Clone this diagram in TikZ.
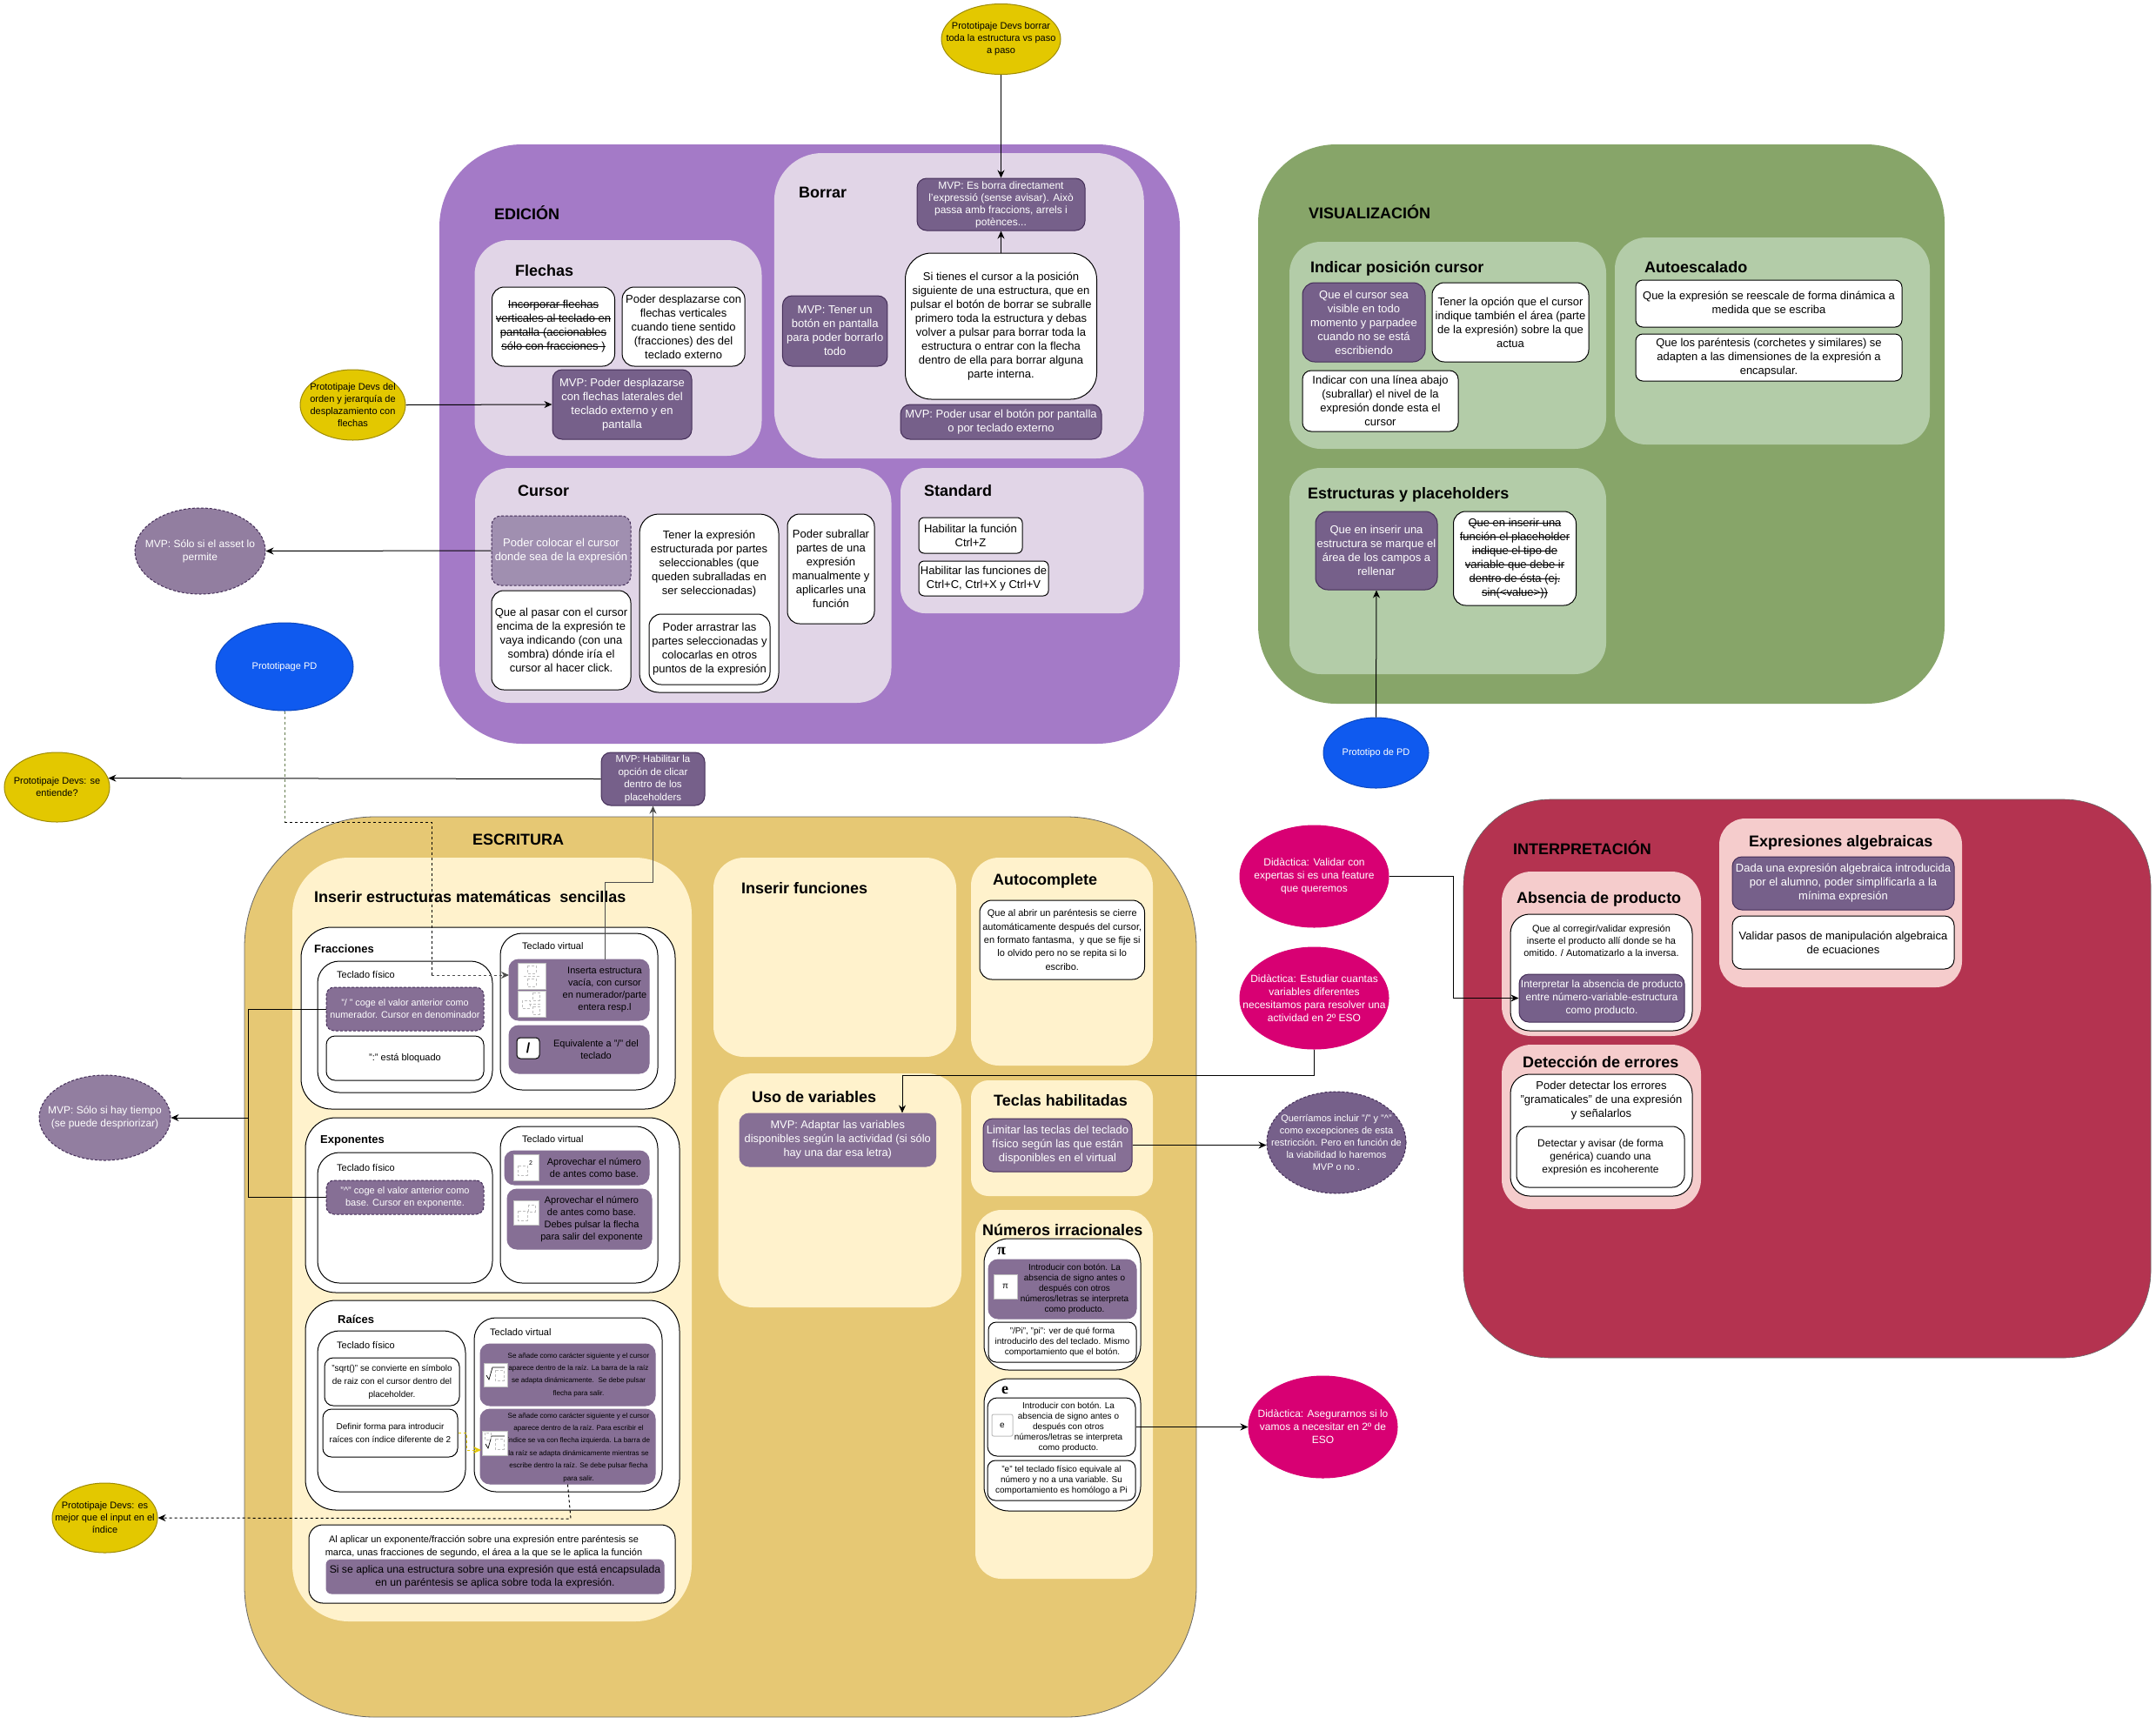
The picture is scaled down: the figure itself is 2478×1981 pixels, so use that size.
\documentclass[tikz,border=0pt]{standalone}
\usepackage{fontspec}
\usepackage{xcolor}
\usepackage{tikz}
\usetikzlibrary{arrows.meta,shapes.geometric}
\setmainfont{Liberation Sans}
\newfontfamily\serifbit{Liberation Serif}
\newcommand{\crossout}[1]{\sbox0{#1}\rlap{\usebox0}\rule[.28em]{\wd0}{1pt}}
\definecolor{edicioncol}{HTML}{A47AC7}
\definecolor{edicionpale}{HTML}{E1D5E7}
\definecolor{visualcol}{HTML}{87A569}
\definecolor{visualpale}{HTML}{B3CCA8}
\definecolor{interpcol}{HTML}{B43350}
\definecolor{interppale}{HTML}{F5CCCC}
\definecolor{escritcol}{HTML}{E6C874}
\definecolor{escritpale}{HTML}{FFF2CC}
\definecolor{mvpcol}{HTML}{76608A}
\definecolor{mvpline}{HTML}{432D57}
\definecolor{softcol}{HTML}{866F95}
\definecolor{fadecol}{HTML}{A08FB0}
\definecolor{devscol}{HTML}{E3C800}
\definecolor{pdcol}{HTML}{0F5AEF}
\definecolor{didaccol}{HTML}{D80073}
\definecolor{assetcol}{HTML}{927EA0}
\tikzset{
  sz/.style 2 args={minimum width=#1,minimum height=#2},
  basebox/.style={rectangle,inner sep=0pt,align=center,line width=1pt},
  t13/.style={font=\fontsize{13}{16}\selectfont},
  t12/.style={font=\fontsize{12}{15}\selectfont},
  t11/.style={font=\fontsize{11}{14}\selectfont},
  t10/.style={font=\fontsize{10}{12}\selectfont},
  t8/.style={font=\fontsize{8.1}{14.4}\selectfont},
  region/.style={basebox,fill=#1},
  whitebox/.style={basebox,draw=black,fill=white,rounded corners=14pt},
  mvpbox/.style={basebox,draw=mvpline,fill=mvpcol,text=white,rounded corners=11pt},
  softbox/.style={basebox,draw=softcol,fill=softcol,rounded corners=11pt},
  softdash/.style={basebox,draw=mvpline,densely dashed,fill=softcol,text=white,rounded corners=9pt},
  note/.style={align=center,inner sep=0pt},
  heading/.style={anchor=west,inner sep=0pt,font=\fontsize{18}{21}\selectfont\bfseries},
  subheading/.style={anchor=west,inner sep=0pt,font=\fontsize{13}{16}\selectfont\bfseries},
  keylabel/.style={anchor=west,inner sep=0pt,font=\fontsize{11}{14}\selectfont},
  thumb/.style={rectangle,inner sep=0pt,draw=gray!50,fill=white,line width=1pt},
  ph/.style={draw=gray!50,densely dashed,line width=.5pt},
  oval/.style={ellipse,align=center,inner xsep=-40pt,inner ysep=-25pt,line width=1pt},
  devs/.style={oval,draw=devscol!70!black,fill=devscol,text=black,t11},
  pdoval/.style={oval,draw=pdcol!80!black,fill=pdcol,text=white,t11},
  didac/.style={oval,draw=didaccol,fill=didaccol,text=white,t12},
  mvpoval/.style={oval,draw=mvpline,densely dashed,fill=assetcol,text=white,t12},
  conn/.style={-{Stealth[length=9pt,width=8pt]},line width=1pt,draw=black},
}
\begin{document}
\begin{tikzpicture}[x=1pt,y=-1pt]
\useasboundingbox (0,0) rectangle (2478,1981);
\fill[white] (0,0) rectangle (2478,1981);

\node[region=edicioncol,sz={851}{689},rounded corners=95pt] (edicion) at (930.5,510.5) {};
\node[region=visualcol,sz={789}{643},rounded corners=90pt] (visual) at (1840.5,487.5) {};
\node[region=interpcol,sz={790}{642},rounded corners=100pt,draw=black!60,line width=.6pt] (interp) at (2077,1240) {};
\node[region=escritcol,sz={1094}{1035},rounded corners=150pt,draw=black!60,line width=.8pt] (escrit) at (828,1456.5) {};

\node[region=edicionpale,sz={330}{248},rounded corners=40pt] (flechas) at (710.5,400) {};
\node[region=edicionpale,sz={425}{351},rounded corners=55pt] (borrar) at (1102.3,351.5) {};
\node[region=edicionpale,sz={478.5}{270},rounded corners=40pt] (cursor) at (785.25,673) {};
\node[region=edicionpale,sz={279.5}{167},rounded corners=28pt] (standard) at (1174.75,621.5) {};
\node[region=visualpale,sz={364}{238},rounded corners=36pt] (indicar) at (1664,397) {};
\node[region=visualpale,sz={362}{238},rounded corners=36pt] (autoesc) at (2037,392) {};
\node[region=visualpale,sz={364}{237},rounded corners=36pt] (estruct) at (1664,656.5) {};
\node[region=interppale,sz={229}{189},rounded corners=34pt] (absencia) at (1840.5,1096.5) {};
\node[region=interppale,sz={229}{189},rounded corners=34pt] (deteccion) at (1840.5,1295.5) {};
\node[region=interppale,sz={279}{194},rounded corners=30pt] (expres) at (2115.5,1038) {};
\node[region=escritpale,sz={459}{878},rounded corners=65pt] (inserir) at (565.5,1425) {};
\node[region=escritpale,sz={279}{229},rounded corners=35pt] (funciones) at (959.5,1100.5) {};
\node[region=escritpale,sz={209}{239},rounded corners=32pt] (autocomp) at (1220.5,1105.5) {};
\node[region=escritpale,sz={279.5}{269},rounded corners=40pt] (variables) at (965.25,1368.5) {};
\node[region=escritpale,sz={209}{133},rounded corners=20pt] (teclas) at (1220.5,1308.5) {};
\node[region=escritpale,sz={204}{424},rounded corners=30pt] (numeros) at (1223,1603) {};

\node[heading] (tedicion) at (568,245) {EDICIÓN};
\node[heading] (tborrar) at (918,221) {Borrar};
\node[heading] (tflechas) at (592,311) {Flechas};
\node[heading] (tcursor) at (595,564) {Cursor};
\node[heading] (tstandard) at (1062,564) {Standard};
\node[heading] (tvisual) at (1504,244) {VISUALIZACIÓN};
\node[heading] (tindicar) at (1506,308.5) {Indicar posición cursor};
\node[heading] (tautoesc) at (1890,307) {Autoescalado};
\node[heading] (testruct) at (1503,569) {Estructuras y placeholders};
\node[heading] (tinterp) at (1739,975) {INTERPRETACIÓN};
\node[heading] (tabsencia) at (1743,1033.5) {Absencia de producto};
\node[heading] (tdeteccion) at (1750,1221) {Detección de errores};
\node[heading] (texpres) at (2010,968.5) {Expresiones algebraicas};
\node[heading] (tescrit) at (543,965) {ESCRITURA};
\node[heading] (tinserir) at (361,1031) {Inserir estructuras matemáticas\ \ sencillas};
\node[heading] (tfunciones) at (852,1021) {Inserir funciones};
\node[heading] (tautocomp) at (1141,1013) {Autocomplete};
\node[heading] (tvariables) at (864,1261) {Uso de variables};
\node[heading] (tteclas) at (1142,1265) {Teclas habilitadas};
\node[heading] (tnumeros) at (1129,1414) {Números irracionales};

\node[whitebox,t13,sz={141}{91}] (incorp) at (636,375.5) {\crossout{Incorporar flechas}\\\crossout{verticales al teclado en}\\\crossout{pantalla (accionables}\\\crossout{sólo con fracciones )}};
\node[whitebox,t13,sz={141}{91}] (despl) at (785.6,375.5) {Poder desplazarse con\\flechas verticales\\cuando tiene sentido\\(fracciones) des del\\teclado externo};
\node[mvpbox,t13,sz={160}{80}] (mvpdespl) at (715,465) {MVP: Poder desplazarse\\con flechas laterales del\\teclado externo y en\\pantalla};
\node[mvpbox,font=\fontsize{12}{14}\selectfont,sz={193}{60}] (esborra) at (1150.5,235) {MVP: Es borra directament\\l'expressió (sense avisar). Això\\passa amb fraccions, arrels i\\potènces...};
\node[whitebox,t13,sz={220}{168},rounded corners=30pt] (sitienes) at (1150.5,375) {Si tienes el cursor a la posición\\siguiente de una estructura, que en\\pulsar el botón de borrar se subralle\\primero toda la estructura y debas\\volver a pulsar para borrar toda la\\estructura o entrar con la flecha\\dentro de ella para borrar alguna\\parte interna.};
\node[mvpbox,t13,sz={120.5}{81}] (mvpboton) at (959.7,380.5) {MVP: Tener un\\botón en pantalla\\para poder borrarlo\\todo};
\node[mvpbox,t13,sz={231}{40}] (mvpusar) at (1150.5,485) {MVP: Poder usar el botón por pantalla\\o por teclado externo};

\node[basebox,t13,draw=mvpline,densely dashed,fill=fadecol,text=white,rounded corners=11pt,sz={160}{80}] (colocar) at (645,633) {Poder colocar el cursor\\donde sea de la expresión};
\node[whitebox,t13,sz={160}{114}] (pasar) at (645,736) {Que al pasar con el cursor\\encima de la expresión te\\vaya indicando (con una\\sombra) dónde iría el\\cursor al hacer click.};
\node[whitebox,t13,sz={160}{205},rounded corners=22pt] (partes) at (815,693.5) {Tener la expresión\\estructurada por partes\\seleccionables (que\\queden subralladas en\\ser seleccionadas)\\[77pt]~};
\node[whitebox,t13,sz={139}{81}] (arrastrar) at (815.5,746.5) {Poder arrastrar las\\partes seleccionadas y\\colocarlas en otros\\puntos de la expresión};
\node[whitebox,t13,sz={100}{126}] (subrallar) at (955,654) {Poder subrallar\\partes de una\\expresión\\manualmente y\\aplicarles una\\función};
\node[whitebox,t13,sz={119}{41},rounded corners=6pt] (ctrlz) at (1115.5,615.5) {Habilitar la función\\Ctrl+Z};
\node[whitebox,t13,sz={149}{40},rounded corners=6pt] (ctrlc) at (1130.5,665) {Habilitar las funciones de\\Ctrl+C, Ctrl+X y Ctrl+V};

\node[mvpbox,t13,sz={141}{91},rounded corners=14pt] (visible) at (1567.5,370.5) {Que el cursor sea\\visible en todo\\momento y parpadee\\cuando no se está\\escribiendo};
\node[whitebox,t13,sz={180}{91}] (opcion) at (1736,370.5) {Tener la opción que el cursor\\indique también el área (parte\\de la expresión) sobre la que\\actua};
\node[whitebox,t13,sz={179}{70},rounded corners=10pt] (linea) at (1586.5,461) {Indicar con una línea abajo\\(subrallar) el nivel de la\\expresión donde esta el\\cursor};
\node[whitebox,t13,sz={306}{54},rounded corners=8pt] (reescale) at (2033,349) {Que la expresión se reescale de forma dinámica a\\medida que se escriba};
\node[whitebox,t13,sz={306}{54},rounded corners=8pt] (parentesis) at (2033,411) {Que los paréntesis (corchetes y similares) se\\adapten a las dimensiones de la expresión a\\encapsular.};
\node[mvpbox,t13,sz={140}{90},rounded corners=14pt] (enins) at (1582,633) {Que en inserir una\\estructura se marque el\\área de los campos a\\rellenar};
\node[whitebox,t13,sz={141}{108}] (funcph) at (1741,642) {\crossout{Que en inserir una}\\\crossout{función el placeholder}\\\crossout{indique el tipo de}\\\crossout{variable que debe ir}\\\crossout{dentro de ésta (ej.}\\\crossout{sin(<value>))}};

\node[whitebox,t11,sz={209}{134},rounded corners=22pt] (corregir) at (1840.5,1118) {Que al corregir/validar expresión\\inserte el producto allí donde se ha\\omitido. / Automatizarlo a la inversa.\\[60pt]~};
\node[mvpbox,t12,sz={190}{55}] (interpretar) at (1841,1147.5) {Interpretar la absencia de producto\\entre número-variable-estructura\\como producto.};
\node[whitebox,t13,sz={209}{140},rounded corners=22pt] (detw) at (1840.5,1305) {Poder detectar los errores\\"gramaticales" de una expresión\\y señalarlos\\[66pt]~};
\node[whitebox,t12,sz={193}{70}] (detectar) at (1839.5,1330) {Detectar y avisar (de forma\\genérica) cuando una\\expresión es incoherente};
\node[mvpbox,t13,sz={255}{61}] (dada) at (2118.5,1015.5) {Dada una expresión algebraica introducida\\por el alumno, poder simplificarla a la\\mínima expresión};
\node[whitebox,t13,sz={255}{61},rounded corners=11pt] (valpasos) at (2118.5,1083.5) {Validar pasos de manipulación algebraica\\de ecuaciones};

\node[whitebox,sz={430}{209},rounded corners=35pt] (frac) at (561,1170.5) {};
\node[subheading] (tfrac) at (361,1091) {Fracciones};
\node[whitebox,sz={201}{151},rounded corners=25pt] (fisf) at (465.5,1180.5) {};
\node[keylabel] (tfisf) at (387,1120) {Teclado físico};
\node[whitebox,sz={181}{180},rounded corners=25pt] (virf) at (665.5,1163) {};
\node[keylabel] (tvirf) at (600,1088) {Teclado virtual};
\node[softdash,font=\fontsize{10.8}{14}\selectfont,sz={181}{50}] (slash) at (465.5,1160) {"/ " coge el valor anterior como\\numerador. Cursor en denominador};
\node[whitebox,t11,sz={181}{51},rounded corners=10pt] (bloq) at (465.5,1216.5) {":" está bloquado};
\node[softbox,sz={161}{70}] (inserta) at (665.5,1138) {};
\node[note,t11] (instxt) at (695,1138) {Inserta estructura\\vacía, con cursor\\en numerador/parte\\entera resp.l};
\node[thumb,sz={32}{30}] (kfrac) at (611,1122) {};
\node[thumb,sz={32}{30}] (kmix) at (611,1154) {};
\node[softbox,sz={161}{55}] (equiv) at (665.5,1206.5) {};
\node[note,t11] (eqtxt) at (685,1206.5) {Equivalente a "/" del\\teclado};
\node[basebox,draw=black,fill=white,rounded corners=4pt,sz={26}{24},font=\fontsize{16}{16}\selectfont\bfseries] (kslash) at (607,1205) {/};

\node[whitebox,sz={430}{201},rounded corners=35pt] (expo) at (566,1385.5) {};
\node[subheading] (texpo) at (368,1311) {Exponentes};
\node[whitebox,sz={201}{150},rounded corners=25pt] (fise) at (465.5,1400) {};
\node[keylabel] (tfise) at (387,1342) {Teclado físico};
\node[whitebox,sz={181}{180},rounded corners=25pt] (vire) at (665.5,1385) {};
\node[keylabel] (tvire) at (600,1310) {Teclado virtual};
\node[softdash,t11,sz={181}{39}] (hat) at (465.5,1376.5) {"\textasciicircum" coge el valor anterior como\\base. Cursor en exponente.};
\node[softbox,sz={166}{39}] (apr1) at (663,1342.5) {};
\node[note,t11] (apr1txt) at (683,1342.5) {Aprovechar el número\\de antes como base.};
\node[thumb,sz={29}{30}] (kpow) at (604.5,1342) {};
\node[softbox,sz={166}{69}] (apr2) at (666,1401.5) {};
\node[note,t11] (apr2txt) at (680,1401.5) {Aprovechar el número\\de antes como base.\\Debes pulsar la flecha\\para salir del exponente};
\node[thumb,sz={29}{28}] (kbox) at (604.5,1394) {};

\node[whitebox,sz={430}{241},rounded corners=35pt] (raices) at (566,1615.5) {};
\node[subheading] (traices) at (388,1517) {Raíces};
\node[whitebox,sz={170}{185},rounded corners=25pt] (fisr) at (450,1622.5) {};
\node[keylabel] (tfisr) at (387,1546) {Teclado físico};
\node[whitebox,sz={216}{200},rounded corners=25pt] (virr) at (653,1615) {};
\node[keylabel] (tvirr) at (563,1532) {Teclado virtual};
\node[whitebox,font=\fontsize{10}{15}\selectfont,sz={155}{55},rounded corners=10pt] (sqrtbox) at (450.5,1588.5) {"sqrt()" se convierte en símbolo\\de raiz con el cursor dentro del\\placeholder.};
\node[whitebox,font=\fontsize{10}{15}\selectfont,sz={155}{55},rounded corners=10pt] (definir) at (448.5,1647.5) {Definir forma para introducir\\raíces con índice diferente de 2};
\node[softbox,sz={201}{71}] (sa1) at (652.5,1580.5) {};
\node[note,t8] (sa1txt) at (665,1580.5) {Se añade como carácter siguiente y el cursor\\aparece dentro de la raíz. La barra de la raíz\\se adapta dinámicamente.\ \ Se debe pulsar\\flecha para salir.};
\node[thumb,sz={27}{27}] (kroot) at (569.5,1580.5) {};
\node[softbox,sz={201}{86}] (sa2) at (652.5,1663) {};
\node[note,t8] (sa2txt) at (665,1664) {Se añade como carácter siguiente y el cursor\\aparece dentro de la raíz. Para escribir el\\índice se va con flecha izquierda. La barra de\\la raíz se adapta dinámicamente mientras se\\escribe dentro la raíz. Se debe pulsar flecha\\para salir.};
\node[thumb,sz={29}{28}] (kindex) at (568.5,1659) {};

\node[whitebox,sz={421}{90},rounded corners=16pt] (aplicar) at (565.5,1798) {};
\node[note,font=\fontsize{11}{15}\selectfont] (apltxt) at (556,1778.5) {Al aplicar un exponente/fracción sobre una expresión entre paréntesis se\\marca, unas fracciones de segundo, el área a la que se le aplica la función};
\node[softbox,font=\fontsize{12.2}{15}\selectfont,sz={388}{39},rounded corners=6pt] (encaps) at (569,1812.5) {Si se aplica una estructura sobre una expresión que está encapsulada\\en un paréntesis se aplica sobre toda la expresión.};

\node[whitebox,font=\fontsize{11}{15.3}\selectfont,sz={189.5}{91}] (abrir) at (1220.75,1080.5) {Que al abrir un paréntesis se cierre\\automáticamente después del cursor,\\en formato fantasma,\ \ y que se fije si\\lo olvido pero no se repita si lo\\escribo.};
\node[mvpbox,font=\fontsize{12.8}{16}\selectfont,sz={225.5}{61},draw=softcol,fill=softcol] (adaptar) at (962.75,1310.5) {MVP: Adaptar las variables\\disponibles según la actividad (si sólo\\hay una dar esa letra)};
\node[mvpbox,t13,sz={171}{61},draw=mvpline,fill=softcol] (limitar) at (1215.5,1316.5) {Limitar las teclas del teclado\\físico según las que están\\disponibles en el virtual};

\node[whitebox,sz={180}{151},rounded corners=28pt] (piw) at (1221,1499.5) {};
\node[note,font=\serifbit\fontsize{18}{18}\selectfont\bfseries] (tpi) at (1151,1438) {π};
\node[softbox,sz={170}{68}] (mvppi) at (1221,1482) {};
\node[note,t10] (pitxt) at (1235,1482) {Introducir con botón. La\\absencia de signo antes o\\después con otros\\números/letras se interpreta\\como producto.};
\node[thumb,t10,sz={27}{28}] (kpi) at (1155.5,1479) {π};
\node[whitebox,t10,sz={170}{46},rounded corners=9pt] (pipi) at (1221,1543) {"/Pi", "pi": ver de qué forma\\introducirlo des del teclado. Mismo\\comportamiento que el botón.};
\node[whitebox,sz={180}{152},rounded corners=28pt] (ew) at (1221,1661) {};
\node[note,font=\serifbit\fontsize{18}{18}\selectfont\bfseries] (te) at (1155,1598) {e};
\node[whitebox,sz={170}{67},rounded corners=11pt] (intro) at (1220,1640.5) {};
\node[note,t10] (introtxt) at (1228,1641) {Introducir con botón. La\\absencia de signo antes o\\después con otros\\números/letras se interpreta\\como producto.};
\node[thumb,t10,sz={24}{25},rounded corners=2pt] (ke) at (1152,1638.5) {e};
\node[whitebox,t10,sz={170}{46},rounded corners=9pt] (etel) at (1220,1702) {"e" tel teclado físico equivale al\\número y no a una variable. Su\\comportamiento es homólogo a Pi};

\draw[ph] (606,1110) rectangle (616,1119) (606,1125) rectangle (616,1134) (602,1122) -- (620,1122);
\draw[ph] (600,1150) rectangle (609,1159) (612,1141) rectangle (620,1150) (612,1157) rectangle (620,1166) (608,1154) -- (622,1154);
\draw[ph] (595,1340) rectangle (606,1351);
\node[note,font=\fontsize{7}{7}\selectfont] (kpow2) at (610,1337) {2};
\draw[ph] (595,1392) rectangle (606,1403) (607,1385) rectangle (615,1393);
\draw[line width=.7pt] (559,1581) -- (562,1586) -- (566,1572) -- (580,1572);
\draw[ph] (569,1575) rectangle (579,1587);
\draw[line width=.7pt] (558,1660) -- (561,1665) -- (565,1651) -- (580,1651);
\draw[ph] (557,1647) rectangle (564,1655) (569,1654) rectangle (579,1666);

\node[devs,sz={137}{81}] (protob) at (1150.5,45) {Prototipaje Devs borrar\\toda la estructura vs paso\\a paso};
\node[devs,sz={121}{81}] (orden) at (405.5,465.5) {Prototipaje Devs del\\orden y jerarquía de\\desplazamiento con\\flechas};
\node[mvpoval,sz={150}{99}] (asset) at (230,633.5) {MVP: Sólo si el asset lo\\permite};
\node[pdoval,sz={158}{101}] (pd) at (327,766.5) {Prototipage PD};
\node[mvpbox,font=\fontsize{11.5}{14.6}\selectfont,sz={119}{61}] (habil) at (750.5,895.5) {MVP: Habilitar la\\opción de clicar\\dentro de los\\placeholders};
\node[devs,sz={121}{80}] (entiende) at (65.5,905) {Prototipaje Devs: se\\entiende?};
\node[pdoval,sz={121}{81}] (protopd) at (1581.5,865.5) {Prototipo de PD};
\node[mvpoval,sz={151}{98}] (tiempo) at (120.5,1285) {MVP: Sólo si hay tiempo\\(se puede despriorizar)};
\node[devs,sz={121}{80}] (indice) at (120.5,1745) {Prototipaje Devs: es\\mejor que el input en el\\índice};
\node[didac,sz={171}{117}] (validar) at (1510.5,1007.5) {Didàctica: Validar con\\expertas si es una feature\\que queremos};
\node[didac,sz={171}{117}] (estudiar) at (1510.5,1147.5) {Didàctica: Estudiar cuantas\\variables diferentes\\necesitamos para resolver una\\actividad en 2º ESO};
\node[mvpoval,font=\fontsize{11}{14}\selectfont,fill=mvpcol,sz={160}{117}] (quer) at (1536,1313.5) {Querríamos incluir "/" y "\textasciicircum"\\como excepciones de esta\\restricción. Pero en función de\\la viabilidad lo haremos\\MVP o no .};
\node[didac,sz={171}{117}] (aseg) at (1520.5,1640.5) {Didàctica: Asegurarnos si lo\\vamos a necesitar en 2º de\\ESO};

\coordinate (habbend) at (695,1014);
\coordinate (pdbend) at (496,945);
\coordinate (pdin) at (585,1121);
\coordinate (trunk) at (285,1285);
\coordinate (yelbend) at (536,1667);
\coordinate (yelin) at (553,1667);
\coordinate (idxbend) at (656,1746);
\coordinate (estbend) at (1037,1236);
\coordinate (absbend) at (1670,1147.5);

\draw[conn] (protob.south) -- (esborra.north);
\draw[conn] (sitienes.north) -- (esborra.south);
\draw[conn] (orden.east) -- (mvpdespl.west);
\draw[conn] (colocar.west) -- (asset.east);
\draw[conn] (habil.west) -- (entiende.10);
\draw[conn] (protopd.north) -- (enins.south);
\draw[conn,draw=black!70] (habbend |- inserta.north) -- (habbend) -| (habil.south);
\draw[line width=1pt,dashed,draw=visualcol!75!black] (pd.south) -- (pd.south |- pdbend);
\draw[line width=.8pt,dashed] (pd.south |- pdbend) -- (pdbend) -- (pdbend |- pdin);
\draw[conn,dashed,draw=black!70] (pdbend |- pdin) -- (pdin);
\draw[line width=1pt] (slash.west) -| (trunk);
\draw[line width=1pt] (hat.west) -| (trunk);
\draw[conn] (trunk) -- (tiempo.east);
\draw[conn,dashed,draw=devscol] (definir.east) -| (yelbend) -- (yelin);
\draw[conn,dashed] (sa2.south) -- (idxbend) -- (indice.east);
\draw[conn] (limitar.east) -- (quer.west |- limitar.east);
\draw[conn] (estudiar.south) |- (estbend) -- (estbend |- adaptar.north);
\draw[conn] (validar.east) -| (absbend) -- (interpretar.west);
\draw[conn] (intro.east) -- (aseg.west);
\end{tikzpicture}
\end{document}
